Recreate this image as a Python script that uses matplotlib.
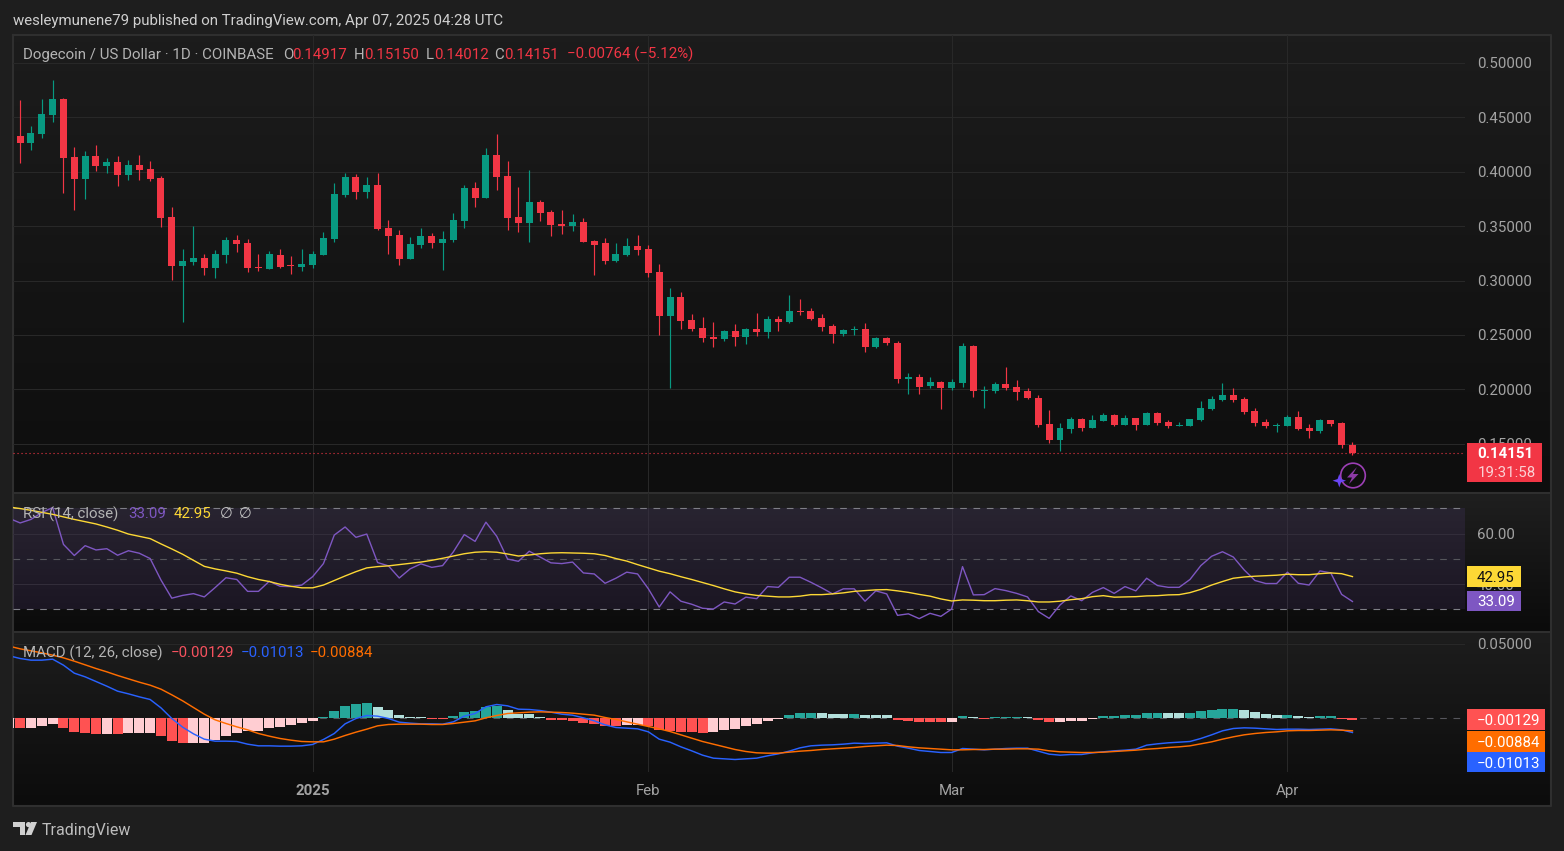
import matplotlib
matplotlib.use("Agg")
import numpy as np
import matplotlib.pyplot as plt
from matplotlib.colors import LinearSegmentedColormap
from matplotlib.patches import Rectangle, Polygon, Circle

plt.rcParams['font.family'] = ['Roboto', 'DejaVu Sans']

W, H = 1564, 851

# %% Data — one candle per day from 2024-12-04 to 2025-04-07
open_p = [.4062,.4329,.4264,.4347,.4522,.4669,.4136,.3933,.4145,.4053,.4090,.3970,.4062,.4025,.3943,.3584,.3134,.3171,.3207,.3115,
          .3235,.3373,.3345,.3125,.3106,.3235,.3143,.3125,.3143,.3235,.3382,.3786,.3952,.3814,.3878,.3483,.3419,
          .3198,.3327,.3410,.3345,.3373,.3548,.3851,.3759,.4154,.3961,.3584,.3529,.3722,.3630,.3520,.3502,.3538,.3364,.3345,
          .3180,.3235,.3318,.3290,.3079,.2675,.2849,.2638,.2564,.2482,.2463,.2537,.2482,.2555,.2527,.2647,.2619,
          .2721,.2721,.2656,.2583,.2509,.2546,.2555,.2390,.2473,.2427,.2096,.2114,.2032,.2068,.2013,.2059,.2399,.1986,.1986,
          .2050,.2022,.1986,.1921,.1682,.1535,.1636,.1728,.1646,.1710,.1765,.1673,.1738,.1673,.1783,.1701,
          .1666,.1663,.1719,.1820,.1902,.1948,.1912,.1801,.1700,.1663,.1663,.1746,.1645,.1617,.1719,.1691,.14917]
high_p = [.4329,.4660,.4421,.4669,.4844,.4678,.4228,.4191,.4246,.4126,.4145,.4108,.4154,.4099,.3961,.3676,.3290,.3501,.3244,.3281,
          .3400,.3419,.3382,.3244,.3272,.3290,.3226,.3290,.3272,.3446,.3897,.3989,.3979,.3952,.3989,.3557,.3465,
          .3401,.3483,.3437,.3456,.3621,.3879,.3906,.4219,.4347,.4099,.3860,.4016,.3741,.3649,.3649,.3612,.3575,.3373,.3391,
          .3345,.3391,.3419,.3327,.3152,.2932,.2895,.2693,.2665,.2619,.2546,.2601,.2564,.2702,.2675,.2675,.2868,
          .2831,.2748,.2693,.2601,.2555,.2583,.2610,.2482,.2482,.2445,.2151,.2142,.2114,.2078,.2096,.2427,.2408,.2032,.2068,
          .2206,.2087,.2013,.1949,.1811,.1692,.1747,.1738,.1765,.1783,.1774,.1765,.1738,.1793,.1793,.1719,
          .1700,.1728,.1893,.1939,.2059,.2013,.1930,.1829,.1728,.1691,.1764,.1801,.1682,.1728,.1719,.1700,.15150]
low_p = [.4062,.4080,.4200,.4310,.4457,.3805,.3648,.3750,.4007,.3989,.3869,.3924,.3924,.3915,.3492,.3005,.2619,.3143,.3051,.3023,
         .3161,.3262,.3079,.3088,.3106,.3115,.3060,.3088,.3115,.3235,.3354,.3768,.3750,.3759,.3465,.3244,.3143,
         .3198,.3300,.3300,.3097,.3355,.3483,.3676,.3759,.3833,.3465,.3447,.3355,.3548,.3410,.3428,.3456,.3355,.3051,.3152,
         .3171,.3226,.3235,.3033,.2500,.2013,.2555,.2537,.2436,.2390,.2445,.2399,.2417,.2491,.2472,.2537,.2610,
         .2684,.2638,.2537,.2427,.2491,.2500,.2344,.2381,.2408,.2059,.1958,.1958,.2013,.1820,.1995,.2022,.1931,.1829,.1967,
         .1995,.1903,.1912,.1655,.1508,.1434,.1600,.1618,.1646,.1710,.1664,.1673,.1627,.1673,.1673,.1646,
         .1663,.1663,.1709,.1810,.1893,.1884,.1774,.1663,.1645,.1608,.1663,.1627,.1553,.1599,.1663,.1461,.14012]
close_p = [.4329,.4264,.4356,.4531,.4669,.4126,.3933,.4145,.4053,.4090,.3970,.4062,.4016,.3933,.3575,.3134,.3180,.3207,.3115,.3244,
           .3373,.3336,.3115,.3115,.3244,.3125,.3134,.3152,.3244,.3391,.3796,.3952,.3814,.3878,.3474,.3410,.3198,
           .3336,.3410,.3345,.3382,.3557,.3851,.3759,.4154,.3952,.3575,.3529,.3722,.3621,.3511,.3502,.3538,.3355,.3327,.3180,
           .3244,.3318,.3281,.3070,.2675,.2849,.2629,.2555,.2472,.2463,.2537,.2482,.2555,.2527,.2647,.2619,.2720,
           .2711,.2647,.2574,.2509,.2546,.2555,.2390,.2473,.2427,.2096,.2114,.2022,.2068,.2013,.2068,.2399,.1986,.1995,.2050,
           .2013,.1976,.1921,.1673,.1535,.1646,.1728,.1646,.1719,.1765,.1673,.1738,.1673,.1783,.1692,.1664,
           .1673,.1728,.1829,.1912,.1948,.1902,.1792,.1691,.1663,.1673,.1746,.1636,.1617,.1719,.1682,.1492,.14151]

rsi_v = [66.0,64.2,65.6,68.3,70.3,55.7,51.3,55.2,53.5,54.0,51.4,53.2,52.2,50.1,41.6,34.4,35.5,36.2,34.9,38.6,
         42.5,41.8,37.1,37.1,41.1,39.1,39.0,39.6,42.9,48.1,59.4,62.6,58.5,59.8,48.5,47.2,42.4,46.0,48.0,46.6,
         47.3,52.8,59.6,56.9,64.5,58.9,49.9,49.0,
         53.0,50.7,48.4,48.1,48.7,44.4,44.0,40.3,42.3,44.7,44.0,38.1,30.9,36.9,33.2,32.0,30.4,30.1,32.9,32.1,
         34.8,34.2,39.0,38.7,42.7,42.7,40.7,38.5,36.1,38.1,38.1,33.2,37.3,36.1,27.6,28.2,26.3,28.4,27.2,30.1,
         46.9,35.7,35.8,38.2,
         37.4,36.3,34.9,29.1,26.4,31.7,35.3,33.4,36.7,38.6,36.3,39.0,37.3,42.3,39.4,38.7,38.7,41.8,47.3,51.0,
         52.8,50.7,45.6,41.4,40.2,40.2,44.7,40.3,39.6,45.2,44.4,35.9,33.09]
rsi_ma = [70.5,69.9,69.2,68.4,67.6,66.6,65.6,64.7,63.8,62.6,61.3,59.8,58.9,58.0,55.9,53.9,51.8,49.4,47.0,46.0,
          45.2,44.3,42.9,41.8,41.0,39.9,39.1,38.5,38.5,39.6,41.4,43.2,44.9,46.4,46.9,47.2,47.7,48.2,48.7,49.4,
          50.2,51.1,52.0,52.6,52.8,52.6,51.9,51.1,
          51.5,52.0,52.3,52.4,52.3,52.2,52.0,51.3,50.1,49.1,47.7,46.4,45.1,44.1,42.9,41.8,40.6,39.4,38.1,36.9,
          36.1,35.5,35.2,34.9,34.9,35.2,35.8,35.8,36.1,36.5,37.1,37.4,37.7,37.8,37.3,36.7,35.9,35.2,34.1,33.3,
          33.7,33.6,33.4,33.4,
          33.6,33.7,33.4,32.9,32.9,33.2,33.8,34.2,35.0,35.4,34.8,34.9,35.0,35.3,35.4,35.7,35.8,36.6,37.9,39.6,
          41.0,42.3,42.8,43.1,43.3,43.5,43.9,43.7,43.7,44.1,44.4,44.1,42.95]

macd_line = [.04178,.04000,.03889,.03889,.03956,.03556,.03022,.02778,.02467,.02156,.01822,.01644,.01444,.01267,.00711,0,-.00578,-.01022,-.01378,-.01511,
             -.01511,-.01533,-.01711,-.01822,-.01822,-.01844,-.01844,-.01822,-.01733,-.014,-.01,-.00356,0,.002,.00156,0,-.00244,-.00311,-.00356,-.00356,
             -.00378,-.00222,.00156,.00333,.00778,.00933,.00844,.00622,
             .006,.00533,.00422,.00289,.00222,.00044,-.00156,-.00422,-.006,-.00644,-.00689,-.00889,-.01378,-.01578,-.01889,-.02156,-.02444,-.02644,-.02689,-.02733,
             -.02689,-.02644,-.02489,-.02356,-.02178,-.01956,-.01822,-.01778,-.01756,-.01711,-.01644,-.01667,-.01644,-.01622,-.01844,-.01978,-.02133,-.022,-.02267,-.02267,
             -.02,-.02044,-.02089,-.02044,-.02,-.01978,-.01978,-.02178,
             -.02378,-.02444,-.024,-.024,-.02289,-.02222,-.02156,-.02111,-.02044,-.01778,-.01689,-.01622,-.01578,-.01533,-.01333,-.01089,-.00822,-.00667,-.00622,-.00644,
             -.00689,-.00733,-.00711,-.00711,-.00733,-.00711,-.00689,-.00756,-.00933]
signal_line = [.04822,.04644,.04511,.04378,.04222,.04044,.03822,.03578,.03333,.03111,.02867,.02644,.02422,.02222,.01956,.01578,.01178,.00733,.00289,-.00089,
               -.00333,-.00556,-.00756,-.01,-.01178,-.01333,-.01444,-.01533,-.01556,-.01556,-.01378,-.01133,-.00911,-.00711,-.00489,-.004,-.00378,-.00378,-.00378,-.004,
               -.004,-.00333,-.00244,-.00156,.00044,.002,.00333,.00378,
               .00422,.00444,.00422,.004,.00356,.00289,.00222,.00067,-.00067,-.00222,-.00378,-.00533,-.00689,-.00867,-.01089,-.01311,-.01533,-.01711,-.01889,-.02067,
               -.022,-.02289,-.02311,-.02311,-.02244,-.02178,-.02133,-.02067,-.02022,-.01978,-.01933,-.01867,-.01822,-.01778,-.018,-.01889,-.01956,-.02,-.02044,-.02089,
               -.02089,-.02067,-.02067,-.02044,-.02044,-.02022,-.02022,-.02044,
               -.02156,-.02222,-.02244,-.02267,-.02267,-.02244,-.022,-.02156,-.02111,-.02044,-.02,-.01933,-.01889,-.01822,-.01689,-.01556,-.01378,-.01222,-.01089,-.01,
               -.00933,-.00889,-.00822,-.008,-.008,-.00778,-.00756,-.00778,-.00822]
macd_hist = [-.00622,-.00622,-.00644,-.00511,-.00378,-.00644,-.00911,-.00978,-.01044,-.01044,-.01044,-.00978,-.00978,-.00978,-.01178,-.01511,-.01644,-.01644,-.01644,-.01444,
             -.01178,-.00978,-.00844,-.00844,-.00644,-.00578,-.00444,-.00311,-.00178,.00089,.00489,.00822,.00956,.01022,.00756,.00556,.00222,.00089,.00089,-.00044,
             -.00044,.00156,.00422,.00489,.00756,.00822,.00556,.00289,
             .00311,.00133,-.00067,-.00133,-.002,-.00311,-.00378,-.00511,-.00511,-.00444,-.00444,-.00511,-.00778,-.00844,-.00911,-.00911,-.00978,-.00911,-.00778,-.00711,
             -.00511,-.00378,-.00178,-.00044,.00222,.00356,.00356,.00356,.00289,.00289,.00289,.00222,.00222,.00222,-.00111,-.00178,-.00244,-.00244,-.00244,-.00244,
             .00156,.00089,-.00044,.00089,.00089,.00089,.00089,-.00111,
             -.00244,-.00244,-.00178,-.00178,-.00044,.00156,.00156,.00222,.00222,.00356,.00356,.00356,.00356,.00356,.00489,.00556,.00622,.00622,.00556,.00422,
             .00289,.00222,.00222,.00156,.00089,.00156,.00156,-.00044,-.00129]
# t/l = positive rising/falling, r/p = negative falling/rising
hist_state = "prppprrrrprppprrrpppppppppppptttttlllllrrtttttllllrrrrrrrpprrrrrrppppppptttllltlllrrrrrptlrtttlrrppppttttttlltttttlllltllttrr"

month_pos = [28, 59, 87, 118]
month_labels = ["2025", "Feb", "Mar", "Apr"]
price_ticks = [.15, .20, .25, .30, .35, .40, .45, .50]
rsi_ticks = [40, 60]
macd_ticks = [.05]

# %% Colours
GREEN, RED = "#089981", "#f23645"
HIST_COLORS = {"t": "#26a69a", "l": "#b2dfdb", "r": "#ff5252", "p": "#ffcdd2"}
BLUE, ORANGE = "#2962ff", "#ff6d00"
PURPLE, YELLOW = "#7e57c2", "#fdd835"
OUTER = "#1e1e1e"
FRAME = "#2f2f2f"
GRID = "#282828"
TICK_TXT = "#a3a3a3"
LEG_TXT = "#b4b4b4"
FS = 10.8

fig = plt.figure(figsize=(W / 100, H / 100), dpi=100, facecolor=OUTER)


def px_axes(x0, y0, x1, y1, z):
    ax = fig.add_axes([x0 / W, 1 - y1 / H, (x1 - x0) / W, (y1 - y0) / H], zorder=z)
    ax.patch.set_alpha(0)
    for s in ax.spines.values():
        s.set_visible(False)
    return ax


# %% Background and frame
bg = px_axes(0, 0, W, H, 0)
for top, bot, c0, c1 in [(35, 492, "#1c1c1c", "#0e0e0e"),
                         (493, 631, "#1f1f1f", "#0b0b0b"),
                         (632, 806, "#1d1d1d", "#0c0c0c")]:
    cm = LinearSegmentedColormap.from_list("g", [c0, c1])
    bg.imshow(np.linspace(0, 1, 64)[:, None], extent=(13, 1551, bot, top), cmap=cm, aspect="auto")
bg.set_xlim(0, W)
bg.set_ylim(H, 0)
bg.axis("off")
bg.plot([13, 13, 1551, 1551, 13], [35, 806, 806, 35, 35], color=FRAME, lw=1.5)
bg.plot([13, 1551], [492.5, 492.5], color=FRAME, lw=1.5)
bg.plot([13, 1551], [631.5, 631.5], color=FRAME, lw=1.5)

# %% Price panes
xlim = (0.34, 134.39)
x = np.arange(len(close_p))

ax_p = px_axes(13, 35, 1465, 492, 2)
ax_r = px_axes(13, 493, 1465, 631, 2)
ax_m = px_axes(13, 632, 1465, 772, 2)

for ax, ticks, fmt in [(ax_p, price_ticks, "%.5f"), (ax_r, rsi_ticks, "%.2f"), (ax_m, macd_ticks, "%.5f")]:
    ax.set_xlim(*xlim)
    ax.set_xticks(month_pos)
    ax.yaxis.tick_right()
    ax.set_yticks(ticks)
    ax.set_yticklabels([fmt % t for t in ticks])
    ax.tick_params(axis="both", length=0, labelcolor=TICK_TXT, labelsize=FS)
    ax.tick_params(axis="y", pad=8.4)
    ax.grid(True, color=GRID, lw=0.75, zorder=0)
    ax.set_axisbelow(True)

ax_p.set_ylim(0.1057, 0.5257)
ax_r.set_ylim(21.4, 76.06)
ax_m.set_ylim(-0.03567, 0.05767)
ax_p.tick_params(axis="x", labelbottom=False)
ax_r.tick_params(axis="x", labelbottom=False)
ax_m.set_xticklabels(month_labels)
ax_m.tick_params(axis="x", pad=8.5)
ax_m.get_xticklabels()[0].set_fontweight("bold")

# %% Candles
up = np.array(close_p) >= np.array(open_p)
colors = [GREEN if u else RED for u in up]
ax_p.vlines(x, low_p, high_p, colors=colors, lw=0.85, zorder=3)
ax_p.bar(x, np.abs(np.array(close_p) - np.array(open_p)), bottom=np.minimum(open_p, close_p),
         width=0.645, color=colors, linewidth=0, zorder=4)
ax_p.axhline(close_p[-1], color=RED, lw=0.8, ls=(0, (1, 2.6)), zorder=2)

# %% RSI
ax_r.axhspan(30, 70, color=PURPLE, alpha=0.12, lw=0, zorder=1)
ax_r.axhline(70, color="#7e7e86", lw=0.8, ls=(0, (6, 6)), zorder=2)
ax_r.axhline(50, color="#56565c", lw=0.8, ls=(0, (6, 6)), zorder=2)
ax_r.axhline(30, color="#7e7e86", lw=0.8, ls=(0, (6, 6)), zorder=2)
ax_r.plot(x, rsi_v, color=PURPLE, lw=1.0, zorder=3)
ax_r.plot(x, rsi_ma, color=YELLOW, lw=1.0, zorder=4)

# %% MACD
ax_m.axhline(0, color="#56565c", lw=0.8, ls=(0, (6, 6)), zorder=1)
ax_m.bar(x, macd_hist, width=0.92, color=[HIST_COLORS[s] for s in hist_state], linewidth=0, zorder=2)
ax_m.plot(x, macd_line, color=BLUE, lw=1.05, zorder=3)
ax_m.plot(x, signal_line, color=ORANGE, lw=1.05, zorder=4)

# %% Overlay: texts, value tags, logos
ov = px_axes(0, 0, W, H, 5)
ov.set_xlim(0, W)
ov.set_ylim(H, 0)
ov.axis("off")


def label(px, py, s, color=LEG_TXT, size=FS, **kw):
    ov.text(px, py + 1.2, s, color=color, fontsize=size, va="center", ha=kw.pop("ha", "left"), **kw)


def tag(x0, y0, x1, y1, color):
    ov.add_patch(Rectangle((x0, y0), x1 - x0, y1 - y0, facecolor=color, edgecolor="none", zorder=3))


label(13, 20, "wesleymunene79 published on TradingView.com, Apr 07, 2025 04:28 UTC", color="#cfcfcf")

label(23, 53.5, "Dogecoin / US Dollar · 1D · COINBASE")
for px, s in [(283, "O"), (354, "H"), (426, "L"), (494, "C")]:
    label(px, 53.5, s)
for px, s in [(292, "0.14917"), (364, "0.15150"), (434, "0.14012"), (504, "0.14151"), (567, "−0.00764 (−5.12%)")]:
    label(px, 53.5, s, color=RED)

label(23, 513, "RSI (14, close)")
label(128, 513, "33.09", color=PURPLE)
label(174, 513, "42.95", color=YELLOW)
label(220, 513, "∅", size=10.5, color="#c4c4c4")
label(239, 513, "∅", size=10.5, color="#c4c4c4")

label(23, 652, "MACD (12, 26, close)")
label(171, 652, "−0.00129", color="#f7525f")
label(241, 652, "−0.01013", color=BLUE)
label(310, 652, "−0.00884", color=ORANGE)

# price tag
tag(1467, 443, 1542, 482, RED)
label(1477, 453, "0.14151", color="white", fontweight="bold", zorder=4)
label(1478, 472, "19:31:58", color="#fbd0d4", zorder=4)
# RSI tags
tag(1467, 566, 1521, 587, YELLOW)
label(1477, 577, "42.95", color="#111111", zorder=4)
tag(1467, 591, 1521, 611, PURPLE)
label(1477, 601, "33.09", color="white", zorder=4)
# MACD tags
tag(1467, 709, 1545, 730, "#ff5252")
label(1477, 720, "−0.00129", color="white", zorder=4)
tag(1467, 731, 1545, 752, ORANGE)
label(1477, 742, "−0.00884", color="white", zorder=4)
tag(1467, 752, 1545, 772, BLUE)
label(1477, 763, "−0.01013", color="white", zorder=4)

# replay icon under the last candle
ov.add_patch(Circle((1353, 475.5), 12.3, facecolor="none", edgecolor="#9c3fb5", lw=1.2))
ov.add_patch(Polygon([(1357, 467), (1347, 477.5), (1352, 477.5), (1349, 484), (1358.5, 474), (1353, 474)],
                     facecolor="#8d3aa6", edgecolor="none"))
ov.add_patch(Polygon([(1339.3, 474), (1341, 479), (1346, 480.7), (1341, 482.4), (1339.3, 487.4),
                      (1337.6, 482.4), (1332.6, 480.7), (1337.6, 479)], facecolor="#6a45f5", edgecolor="none"))

# TradingView logo
LOGO = "#d0d0d0"
ov.add_patch(Polygon([(13, 822), (25, 822), (25, 835), (19.5, 835), (19.5, 827), (13, 827)], facecolor=LOGO, edgecolor="none"))
ov.add_patch(Circle((28.5, 824.6), 2.6, facecolor=LOGO, edgecolor="none"))
ov.add_patch(Polygon([(31, 822), (37, 822), (31.5, 835), (25.5, 835)], facecolor=LOGO, edgecolor="none"))
label(42, 829, "TradingView", color="#bdbdbd", size=11.5)

fig.savefig("out.png", dpi=100, facecolor=OUTER)
